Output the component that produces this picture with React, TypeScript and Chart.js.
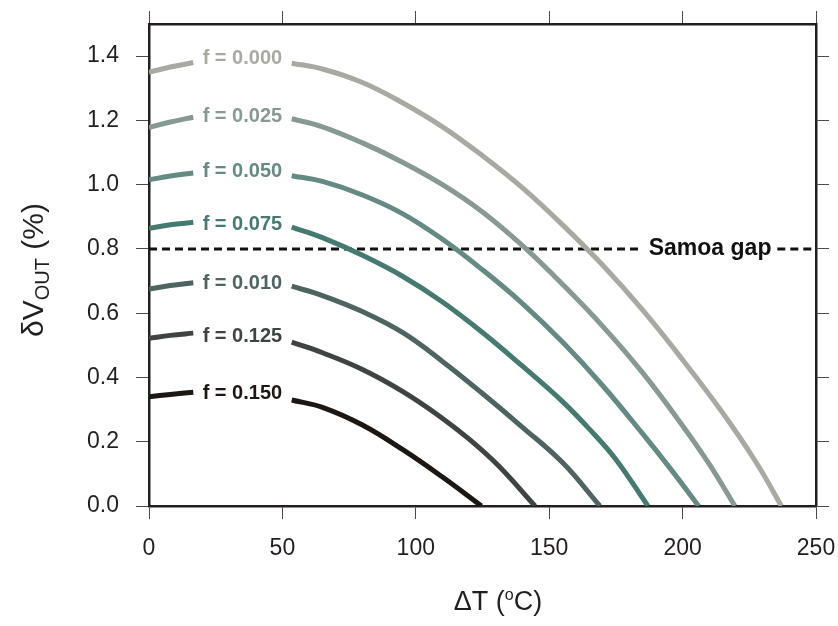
import React, { useEffect, useRef } from "react";
import { Chart, registerables } from "chart.js";

Chart.register(...registerables);

// ---- axes ----
const X_TICKS = [0, 50, 100, 150, 200, 250];
const Y_TICKS = [0, 0.2, 0.4, 0.6, 0.8, 1.0, 1.2, 1.4];
const X_MIN = 0;
const X_MAX = 250;
const Y_MIN = 0;
const Y_MAX = 1.5;

// ---- curve labels ----
const F_LABELS = ["f = 0.000", "f = 0.025", "f = 0.050", "f = 0.075", "f = 0.010", "f = 0.125", "f = 0.150"];
const COLORS = ["#a8aaa2", "#879993", "#658a83", "#457a71", "#4d6461", "#3f4442", "#1d1714"];
const LABEL_X = 35;
const LABEL_Y = [1.394, 1.212, 1.04, 0.875, 0.693, 0.527, 0.351];

// ---- series (ΔT, δV_OUT); null = gap behind the label ----
const X_F000 = [0, 8, 16.6, 35, 53.5, 65, 80, 95, 110, 125, 140, 155, 170, 185, 200, 215, 228, 237];
const Y_F000 = [1.35, 1.366, 1.38, null, 1.378, 1.36, 1.318, 1.255, 1.18, 1.09, 0.99, 0.875, 0.75, 0.61, 0.455, 0.29, 0.13, 0];

const X_F025 = [0, 8, 16.6, 35, 53.5, 65, 80, 95, 110, 125, 140, 155, 170, 185, 200, 210, 219.6];
const Y_F025 = [1.178, 1.195, 1.21, null, 1.205, 1.18, 1.13, 1.07, 1.0, 0.915, 0.81, 0.69, 0.56, 0.415, 0.25, 0.13, 0];

const X_F050 = [0, 8, 16.6, 35, 53.5, 65, 80, 95, 110, 125, 140, 155, 170, 185, 196, 206];
const Y_F050 = [1.015, 1.027, 1.036, null, 1.028, 1.01, 0.968, 0.91, 0.83, 0.735, 0.63, 0.51, 0.375, 0.225, 0.11, 0];

const X_F075 = [0, 8, 16.6, 35, 53.5, 65, 80, 95, 110, 125, 140, 155, 165, 175, 187];
const Y_F075 = [0.864, 0.875, 0.883, null, 0.868, 0.835, 0.78, 0.715, 0.635, 0.54, 0.435, 0.325, 0.24, 0.145, 0];

const X_F010 = [0, 8, 16.6, 35, 53.5, 65, 80, 95, 110, 125, 140, 155, 169];
const Y_F010 = [0.675, 0.686, 0.695, null, 0.684, 0.655, 0.605, 0.54, 0.45, 0.35, 0.245, 0.135, 0];

const X_F125 = [0, 8, 16.6, 35, 53.5, 65, 80, 95, 108, 120, 131, 144.7];
const Y_F125 = [0.522, 0.531, 0.538, null, 0.51, 0.477, 0.425, 0.357, 0.285, 0.208, 0.125, 0];

const X_F150 = [0, 8, 16.6, 35, 53.5, 65, 80, 95, 110, 124.6];
const Y_F150 = [0.34, 0.347, 0.354, null, 0.33, 0.307, 0.252, 0.176, 0.09, 0];

// ---- Samoa gap reference line ----
const SAMOA_LABEL = "Samoa gap";
const SAMOA_Y = 0.8;
const SAMOA_LABEL_X = 210.3;
const SAMOA_X = [0, 185, 210, 235.5, 250];
const SAMOA_YS = [0.8, 0.8, null, 0.8, 0.8];

const X_TITLE = ["ΔT (", "o", "C)"];
const Y_TITLE = ["δV", "OUT", " (%)"];

const FONT = '"Liberation Sans", Arial, Helvetica, sans-serif';
const INK = "#231f20";

const SERIES_X = [X_F000, X_F025, X_F050, X_F075, X_F010, X_F125, X_F150];
const SERIES_Y = [Y_F000, Y_F025, Y_F050, Y_F075, Y_F010, Y_F125, Y_F150];

const toPts = (xs: number[], ys: (number | null)[]) => xs.map((x, i) => ({ x, y: ys[i] }));

const annotations = {
  id: "annotations",
  afterDatasetsDraw(chart: any) {
    const { ctx, scales } = chart;
    const x = scales.x;
    const y = scales.y;
    ctx.save();
    ctx.textAlign = "center";
    ctx.textBaseline = "middle";
    ctx.font = `bold 20px ${FONT}`;
    F_LABELS.forEach((t, i) => {
      ctx.fillStyle = COLORS[i];
      ctx.fillText(t, x.getPixelForValue(LABEL_X), y.getPixelForValue(LABEL_Y[i]));
    });
    ctx.font = `bold 23px ${FONT}`;
    ctx.fillStyle = "#111";
    ctx.fillText(SAMOA_LABEL, x.getPixelForValue(SAMOA_LABEL_X), y.getPixelForValue(SAMOA_Y));

    // x title
    const mainF = `27px ${FONT}`;
    const supF = `16px ${FONT}`;
    ctx.fillStyle = INK;
    ctx.textAlign = "left";
    ctx.textBaseline = "alphabetic";
    ctx.font = mainF;
    const a = ctx.measureText(X_TITLE[0]).width;
    const c = ctx.measureText(X_TITLE[2]).width;
    ctx.font = supF;
    const b = ctx.measureText(X_TITLE[1]).width;
    const cx = 498;
    const sx = cx - (a + b + c) / 2;
    const by = 610;
    ctx.font = mainF;
    ctx.fillText(X_TITLE[0], sx, by);
    ctx.font = supF;
    ctx.fillText(X_TITLE[1], sx + a, by - 10);
    ctx.font = mainF;
    ctx.fillText(X_TITLE[2], sx + a + b, by);

    // y title (rotated)
    const yMainF = `30px ${FONT}`;
    const subF = `20px ${FONT}`;
    ctx.translate(33, 270);
    ctx.rotate(-Math.PI / 2);
    ctx.font = yMainF;
    const w1 = ctx.measureText(Y_TITLE[0]).width;
    const w3 = ctx.measureText(Y_TITLE[2]).width;
    ctx.font = subF;
    const w2 = ctx.measureText(Y_TITLE[1]).width;
    const st = -(w1 + w2 + w3) / 2;
    ctx.font = yMainF;
    ctx.fillText(Y_TITLE[0], st, 10);
    ctx.font = subF;
    ctx.fillText(Y_TITLE[1], st + w1, 16);
    ctx.font = yMainF;
    ctx.fillText(Y_TITLE[2], st + w1 + w2, 10);
    ctx.restore();
  },
};

const gridOpts = { drawOnChartArea: false, drawTicks: true, tickLength: 13, color: "#4a4a4a", lineWidth: 1 };
const borderOpts = { display: true, color: INK, width: 2.5 };
const tickFont = { family: FONT, size: 23 };

const fixX = (h: number) => (s: any) => { s.height = h; s.paddingLeft = 0; s.paddingRight = 0; };
const fixY = (w: number) => (s: any) => { s.width = w; s.paddingTop = 0; s.paddingBottom = 0; };

export default function App() {
  const ref = useRef<HTMLCanvasElement>(null);
  useEffect(() => {
    const datasets: any[] = SERIES_X.map((xs, i) => ({
      label: F_LABELS[i],
      data: toPts(xs, SERIES_Y[i]),
      borderColor: COLORS[i],
      backgroundColor: COLORS[i],
      borderWidth: 5,
      pointRadius: 0,
      tension: 0.4,
      spanGaps: false,
      fill: false,
    }));
    datasets.push({
      label: SAMOA_LABEL,
      data: toPts(SAMOA_X, SAMOA_YS),
      borderColor: "#111",
      borderWidth: 3,
      borderDash: [8, 5],
      pointRadius: 0,
      tension: 0,
      spanGaps: false,
      fill: false,
    });
    const chart = new Chart(ref.current as HTMLCanvasElement, {
      type: "line",
      data: { datasets },
      plugins: [annotations],
      options: {
        animation: false,
        responsive: false,
        layout: { padding: 0 },
        plugins: { legend: { display: false }, tooltip: { enabled: false } },
        scales: {
          x: {
            type: "linear",
            position: "bottom",
            min: X_MIN,
            max: X_MAX,
            afterBuildTicks: (s: any) => { s.ticks = X_TICKS.map((v) => ({ value: v })); },
            afterFit: fixX(120),
            ticks: { font: tickFont, color: INK, padding: 16, maxRotation: 0 },
            grid: gridOpts,
            border: borderOpts,
          },
          x2: {
            type: "linear",
            axis: "x",
            position: "top",
            min: X_MIN,
            max: X_MAX,
            afterBuildTicks: (s: any) => { s.ticks = X_TICKS.map((v) => ({ value: v })); },
            afterFit: fixX(24),
            ticks: { display: false },
            grid: gridOpts,
            border: borderOpts,
          },
          y: {
            type: "linear",
            position: "left",
            min: Y_MIN,
            max: Y_MAX,
            afterBuildTicks: (s: any) => { s.ticks = Y_TICKS.map((v) => ({ value: v })); },
            afterFit: fixY(149),
            ticks: { font: tickFont, color: INK, padding: 17, callback: (v: any) => Number(v).toFixed(1) },
            grid: gridOpts,
            border: borderOpts,
          },
          y2: {
            type: "linear",
            axis: "y",
            position: "right",
            min: Y_MIN,
            max: Y_MAX,
            afterBuildTicks: (s: any) => { s.ticks = Y_TICKS.map((v) => ({ value: v })); },
            afterFit: fixY(22),
            ticks: { display: false },
            grid: gridOpts,
            border: borderOpts,
          },
        },
      } as any,
    });
    return () => chart.destroy();
  }, []);
  return (
    <div style={{ position: "absolute", left: 0, top: 0, width: 838, height: 626, background: "#fff" }}>
      <canvas ref={ref} width={838} height={626} style={{ display: "block", width: 838, height: 626 }} />
    </div>
  );
}
